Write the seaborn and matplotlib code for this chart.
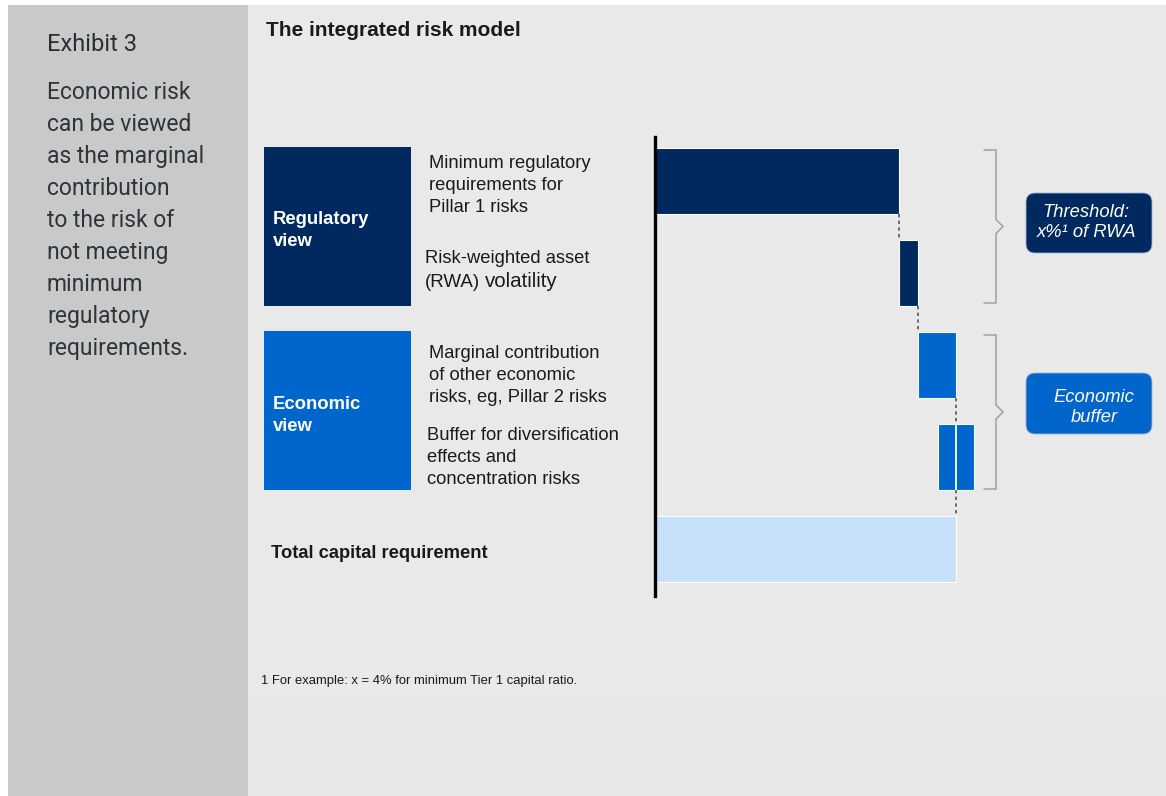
import numpy as np
import pandas as pd
import matplotlib
matplotlib.use("Agg")
import matplotlib.pyplot as plt
from matplotlib.patches import Rectangle, FancyBboxPatch
from matplotlib.lines import Line2D
from matplotlib.transforms import Affine2D
import seaborn as sns

# ---- data (total = 100) ----
steps = ["Minimum regulatory requirements", "RWA volatility",
         "Other economic risks", "Diversification buffer",
         "Total capital requirement"]
step_start = [0, 81, 87.5, 94, 0]
step_size = [81, 6.5, 12.5, 12, 100]
total_capital = 100

navy = "#002960"
blue = "#0066cc"
light_blue = "#c6e0f9"
bar_colors = [navy, navy, blue, blue, light_blue]

left_title = "Exhibit 3"
left_body = ["Economic risk", "can be viewed", "as the marginal", "contribution",
             "to the risk of", "not meeting", "minimum", "regulatory",
             "requirements."]
footnote = "1 For example: x = 4% for minimum Tier 1 capital ratio."

df = pd.DataFrame({"step": steps, "start": step_start, "size": step_size})

# ---- figure setup ----
sns.set_theme(style="white")
plt.rcParams['font.family'] = ['Liberation Sans', 'DejaVu Sans']

W, H = 1166, 796
fig = plt.figure(figsize=(W / 100, H / 100), dpi=100)
fig.patch.set_facecolor("white")

# pixel coordinates with origin top-left
px = Affine2D().scale(1, -1).translate(0, H)


def rect(x0, y0, x1, y1, color, z=-10):
    fig.patches.append(Rectangle((x0, y0), x1 - x0, y1 - y0, transform=px,
                                 facecolor=color, edgecolor="none", zorder=z))


def txt(x, y, s, size, **kw):
    kw.setdefault("color", "#1a1a1a")
    fig.text(x, y, s, transform=px, fontsize=size, va="baseline", **kw)


# background panels
rect(8, 5, 248, 796, "#c8c9cb")
rect(248, 5, 1166, 695, "#e9e9e9")
rect(248, 695, 1166, 796, "#e6e7e9")

# left panel text
txt(47, 51, left_title, 17, color="#2e2e2e", family=["Roboto", "DejaVu Sans"])
for i, line in enumerate(left_body):
    txt(47, 99 + 32 * i, line, 16.5, color="#333333",
        family=["Roboto", "DejaVu Sans"])

txt(266, 36, "The integrated risk model", 15, fontweight="bold")

# view boxes on the left
rect(264, 147, 411, 306, navy, z=1)
rect(264, 331, 411, 490, blue, z=1)
txt(273, 224, "Regulatory", 13.3, fontweight="bold", color="white")
txt(273, 246, "view", 13.3, fontweight="bold", color="white")
txt(273, 409, "Economic", 13.3, fontweight="bold", color="white")
txt(273, 431, "view", 13.3, fontweight="bold", color="white")

# descriptions
desc_size = 13.2
for i, line in enumerate(["Minimum regulatory", "requirements for", "Pillar 1 risks"]):
    txt(429, 168 + 22 * i, line, desc_size)
txt(425, 263, "Risk-weighted asset", desc_size)
txt(425, 287, "(RWA)", 13.5)
txt(485, 287, "volatility", 14.8)
for i, line in enumerate(["Marginal contribution", "of other economic", "risks, eg, Pillar 2 risks"]):
    txt(429, 358 + 22 * i, line, desc_size)
for i, line in enumerate(["Buffer for diversification", "effects and", "concentration risks"]):
    txt(427, 440 + 22 * i, line, desc_size)
txt(271, 558, "Total capital requirement", desc_size, fontweight="bold")

txt(261, 684, footnote, 9.4)

# ---- waterfall ----
ax = fig.add_axes([655 / W, 1 - 596 / H, (1000 - 655) / W, (596 - 137) / H])
ax.set_facecolor("none")
bar_w = 0.72
sns.barplot(data=df, x="size", y="step", left=df["start"].values,
            orient="y", width=bar_w, errorbar=None, color=navy,
            edgecolor="white", linewidth=0.8, ax=ax)
for p, c in zip(ax.patches, bar_colors):
    p.set_facecolor(c)

ax.set_xlim(0, (1000 - 655) / 3.01)
ax.set_ylim(4.51, -0.478)

# dashed connectors between steps
running = list(np.cumsum(step_size[:3])) + [total_capital]
for i, xv in enumerate(running):
    ax.vlines(xv, i + bar_w / 2, i + 1 - bar_w / 2, color="#555555",
              lw=1.2, linestyles=(0, (2, 2)))
# split line inside the diversification bar
ax.vlines(total_capital, 3 - bar_w / 2, 3 + bar_w / 2, color="white", lw=1.3)

for s in ["top", "right", "bottom"]:
    ax.spines[s].set_visible(False)
ax.spines["left"].set_color("black")
ax.spines["left"].set_linewidth(2.4)
ax.set_xticks([])
ax.set_yticks([])
ax.set_xlabel("")
ax.set_ylabel("")


# ---- braces and labels on the right ----
def brace(y0, y1):
    ym = (y0 + y1) / 2
    xs = [984, 996, 996, 1003, 996, 996, 984]
    ys = [y0, y0, ym - 7, ym, ym + 7, y1, y1]
    fig.lines.append(Line2D(xs, ys, transform=px, color="#a0a0a0", lw=1.1))


brace(150, 303)
brace(335, 489)


def label_box(x0, y0, x1, y1, color, lines, cx, base):
    fig.patches.append(FancyBboxPatch((x0, y0), x1 - x0, y1 - y0, transform=px,
                                      boxstyle="round,pad=0,rounding_size=9",
                                      facecolor=color, edgecolor="#9fb3d1",
                                      lw=0.6, zorder=2))
    for i, line in enumerate(lines):
        fig.text(cx, base + 20 * i, line, transform=px, fontsize=13.2,
                 style="italic", color="white", ha="center", va="baseline",
                 zorder=3)


label_box(1026, 193, 1152, 253, navy, ["Threshold:", "x%\u00b9 of RWA"], 1086, 217)
label_box(1026, 373, 1152, 434, blue, ["Economic", "buffer"], 1094, 402)

fig.savefig("out.png", dpi=100)
